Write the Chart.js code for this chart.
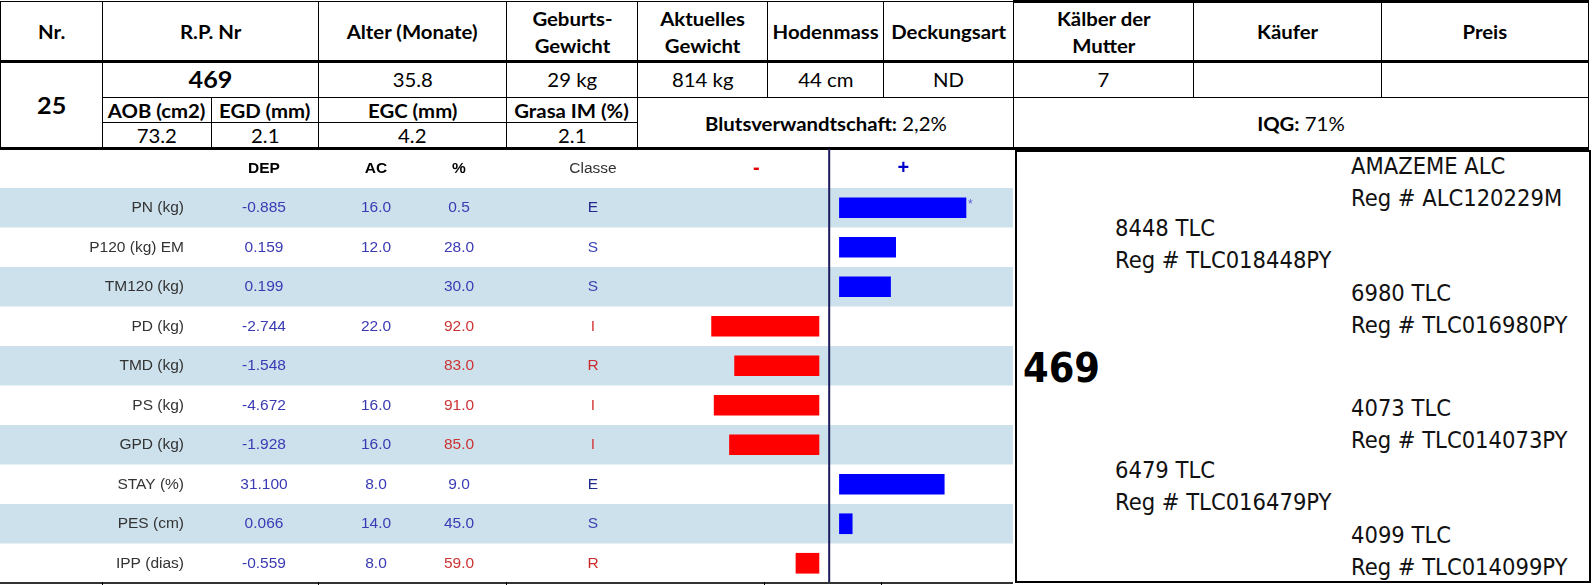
<!DOCTYPE html>
<html>
<head>
<meta charset="utf-8">
<script src="https://cdn.jsdelivr.net/npm/chart.js@4.4.1/dist/chart.umd.min.js"></script>
<style>
    html, body { margin: 0; padding: 0; background: #fff; }
    #page { position: relative; width: 1596px; height: 585px; overflow: hidden; }
    .cell {
        position: absolute; box-sizing: border-box; border: 1px solid #000;
        display: flex; align-items: center; justify-content: center; text-align: center;
        font-family: Lato, sans-serif; font-size: 19px; color: #000; line-height: 27px;
    }
    .cell .t { display: inline-block; transform: scaleX(1.07); white-space: nowrap; }
    .b { font-weight: bold; }
    .big { font-size: 23.5px; }
    .hline { position: absolute; background: #000; }
    #chartBox { position: absolute; left: 0; top: 149px; width: 1013px; height: 434px; }
    #ped { position: absolute; left: 1015px; top: 150px; width: 576px; height: 433px; box-sizing: border-box; border: 2px solid #000; }
    .pt {
        position: absolute; transform: translateY(-50%); white-space: nowrap; line-height: 1;
        font-family: 'DejaVu Sans Condensed', 'DejaVu Sans', sans-serif; font-size: 23.5px; color: #111;
    }
    .pt.main { font-weight: bold; font-size: 41px; color: #000; }
</style>
</head>
<body>
<div id="page">
    <div id="hdr"></div>
    <div id="chartBox"><canvas id="myChart" width="1013" height="434"></canvas></div>
    <div id="ped"></div>
    <div id="foot"></div>
</div>
<script>
    // header table
    const headerLabels = ['Nr.', 'R.P. Nr', 'Alter (Monate)', 'Geburts-<br>Gewicht', 'Aktuelles<br>Gewicht',
        'Hodenmass', 'Deckungsart', 'Kälber der<br>Mutter', 'Käufer', 'Preis'];
    const animalNr = '25';
    const animalId = '469';
    const animalValues = ['35.8', '29 kg', '814 kg', '44 cm', 'ND', '7', '', ''];
    const carcassLabels = ['AOB (cm2)', 'EGD (mm)', 'EGC (mm)', 'Grasa IM (%)'];
    const carcassValues = ['73.2', '2.1', '4.2', '2.1'];
    const inbreeding = ['Blutsverwandtschaft:', '2,2%'];
    const iqg = ['IQG:', '71%'];

    // DEP chart
    const traits = ['PN (kg)', 'P120 (kg) EM', 'TM120 (kg)', 'PD (kg)', 'TMD (kg)', 'PS (kg)',
        'GPD (kg)', 'STAY (%)', 'PES (cm)', 'IPP (dias)'];
    const depValues = ['-0.885', '0.159', '0.199', '-2.744', '-1.548', '-4.672', '-1.928', '31.100', '0.066', '-0.559'];
    const accValues = ['16.0', '12.0', '', '22.0', '', '16.0', '16.0', '8.0', '14.0', '8.0'];
    const pctValues = ['0.5', '28.0', '30.0', '92.0', '83.0', '91.0', '85.0', '9.0', '45.0', '59.0'];
    const classValues = ['E', 'S', 'S', 'I', 'R', 'I', 'I', 'E', 'S', 'R'];
    const barValues = [49.5, 22, 20, -42, -33, -41, -35, 41, 5, -9];
    const barFlags = ['*', '', '', '', '', '', '', '', '', ''];

    // pedigree
    const pedNames = ['AMAZEME ALC', '8448 TLC', '6980 TLC', '4073 TLC', '6479 TLC', '4099 TLC'];
    const pedRegs = ['Reg # ALC120229M', 'Reg # TLC018448PY', 'Reg # TLC016980PY',
        'Reg # TLC014073PY', 'Reg # TLC016479PY', 'Reg # TLC014099PY'];

    const colX = [0, 102, 211, 318, 506, 637, 767, 883, 1013, 1193, 1381, 1588];
    const rowY = [1, 61, 97, 122, 148];
    const hdr = document.getElementById('hdr');

    function cell(c1, c2, r1, r2, html, cls) {
        const d = document.createElement('div');
        d.className = 'cell ' + (cls || '');
        d.style.left = colX[c1] + 'px';
        d.style.top = rowY[r1] + 'px';
        d.style.width = (colX[c2] - colX[c1] + 1) + 'px';
        d.style.height = (rowY[r2] - rowY[r1] + 1) + 'px';
        d.innerHTML = '<span class="t">' + html + '</span>';
        hdr.appendChild(d);
    }

    const headerSpans = [[0, 1], [1, 3], [3, 4], [4, 5], [5, 6], [6, 7], [7, 8], [8, 9], [9, 10], [10, 11]];
    headerLabels.forEach((t, i) => cell(headerSpans[i][0], headerSpans[i][1], 0, 1, t, 'b'));
    cell(0, 1, 1, 4, animalNr, 'b big');
    cell(1, 3, 1, 2, animalId, 'b big');
    animalValues.forEach((t, i) => cell(i + 3, i + 4, 1, 2, t));
    carcassLabels.forEach((t, i) => cell(i + 1, i + 2, 2, 3, t, 'b'));
    carcassValues.forEach((t, i) => cell(i + 1, i + 2, 3, 4, t));
    cell(5, 8, 2, 4, '<b>' + inbreeding[0] + '</b>&nbsp;' + inbreeding[1]);
    cell(8, 11, 2, 4, '<b>' + iqg[0] + '</b>&nbsp;' + iqg[1]);

    function hline(x, y, w, h) {
        const d = document.createElement('div');
        d.className = 'hline';
        Object.assign(d.style, {left: x + 'px', top: y + 'px', width: w + 'px', height: h + 'px'});
        hdr.appendChild(d);
    }
    hline(0, 60, 1589, 3);
    hline(0, 147, 1589, 3);
    hline(1013, 0, 576, 3);

    // pedigree panel
    const ped = document.getElementById('ped');
    function pedText(x, y, text, cls) {
        const d = document.createElement('div');
        d.className = 'pt ' + (cls || '');
        d.style.left = (x - 1017) + 'px';
        d.style.top = (y - 152) + 'px';
        d.textContent = text;
        ped.appendChild(d);
    }
    const pedX = [1351, 1115, 1351, 1351, 1115, 1351];
    const pedY = [167, 229, 294, 409, 471, 536];
    pedNames.forEach((n, i) => {
        pedText(pedX[i], pedY[i], n);
        pedText(pedX[i], pedY[i] + 31.5, pedRegs[i]);
    });
    pedText(1023, 368, animalId, 'main');

    // bottom edge of the next block
    const foot = document.getElementById('foot');
    const footLine = document.createElement('div');
    footLine.className = 'hline';
    Object.assign(footLine.style, {left: '0px', top: '582px', width: '1013px', height: '2px', background: '#333'});
    foot.appendChild(footLine);
    [102, 318, 506, 764, 881].forEach(x => {
        const t = document.createElement('div');
        t.className = 'hline';
        Object.assign(t.style, {left: x + 'px', top: '582px', width: '1px', height: '3px'});
        foot.appendChild(t);
    });

    const GAP = 4;
    const BLUE = '#3a3ab4';
    const RED = '#cc3333';
    const classColors = {E: '#1f2a8c', S: '#3a44b4', R: '#cc2b2b', I: '#d23a3a'};
    const textFont = '"Liberation Sans", Arial, sans-serif';
    const colDep = 264, colAc = 376, colPct = 459, colClass = 593;

    const depTable = {
        id: 'depTable',
        beforeDatasetsDraw(chart) {
            const {ctx, chartArea, scales: {y}} = chart;
            const rowH = (chartArea.bottom - chartArea.top) / traits.length;
            ctx.save();
            ctx.fillStyle = '#cde1ec';
            traits.forEach((t, i) => {
                if (i % 2 === 0) {
                    ctx.fillRect(0, y.getPixelForValue(i) - rowH / 2, chart.width, rowH);
                }
            });
            ctx.restore();
        },
        afterDatasetsDraw(chart) {
            const {ctx, chartArea, scales: {x, y}} = chart;
            ctx.save();
            // zero line
            ctx.strokeStyle = '#1b1b5e';
            ctx.lineWidth = 2;
            ctx.beginPath();
            ctx.moveTo(x.getPixelForValue(0), 0);
            ctx.lineTo(x.getPixelForValue(0), chart.height);
            ctx.stroke();

            ctx.textBaseline = 'middle';
            const hy = chartArea.top / 2;
            ctx.textAlign = 'center';
            ctx.fillStyle = '#000';
            ctx.font = 'bold 15.5px ' + textFont;
            ctx.fillText('DEP', colDep, hy);
            ctx.fillText('AC', colAc, hy);
            ctx.fillText('%', colPct, hy);
            ctx.font = '15.5px ' + textFont;
            ctx.fillStyle = '#333';
            ctx.fillText('Classe', colClass, hy);
            ctx.font = 'bold 20px ' + textFont;
            ctx.fillStyle = '#e00000';
            ctx.fillText('-', x.getPixelForValue(-28.5), hy);
            ctx.fillStyle = '#0000cc';
            ctx.fillText('+', x.getPixelForValue(29), hy);

            ctx.font = '15.5px ' + textFont;
            traits.forEach((t, i) => {
                const cy = y.getPixelForValue(i);
                const good = barValues[i] >= 0;
                ctx.textAlign = 'right';
                ctx.fillStyle = '#333';
                ctx.fillText(t, 184, cy);
                ctx.textAlign = 'center';
                ctx.fillStyle = BLUE;
                ctx.fillText(depValues[i], colDep, cy);
                ctx.fillText(accValues[i], colAc, cy);
                ctx.fillStyle = good ? BLUE : RED;
                ctx.fillText(pctValues[i], colPct, cy);
                ctx.fillStyle = classColors[classValues[i]];
                ctx.fillText(classValues[i], colClass, cy);
                if (barFlags[i]) {
                    ctx.textAlign = 'left';
                    ctx.fillStyle = '#5555dd';
                    ctx.font = '12px ' + textFont;
                    ctx.fillText(barFlags[i], x.getPixelForValue(GAP + barValues[i]) + 2, cy - 3);
                    ctx.font = '15.5px ' + textFont;
                }
            });
            ctx.restore();
        }
    };

    new Chart(document.getElementById('myChart'), {
        type: 'bar',
        data: {
            labels: traits,
            datasets: [{
                data: barValues.map(v => v >= 0 ? [GAP, GAP + v] : [-GAP, -GAP + v]),
                backgroundColor: barValues.map(v => v >= 0 ? '#0000ff' : '#ff0000'),
                borderWidth: 0,
                barThickness: 20
            }]
        },
        options: {
            indexAxis: 'y',
            responsive: false,
            animation: false,
            layout: {padding: {left: 640, right: 1, top: 39, bottom: 0}},
            plugins: {legend: {display: false}, tooltip: {enabled: false}},
            scales: {
                x: {display: false, min: -74, max: 71.5},
                y: {display: false, offset: true}
            }
        },
        plugins: [depTable]
    });
</script>
</body>
</html>
